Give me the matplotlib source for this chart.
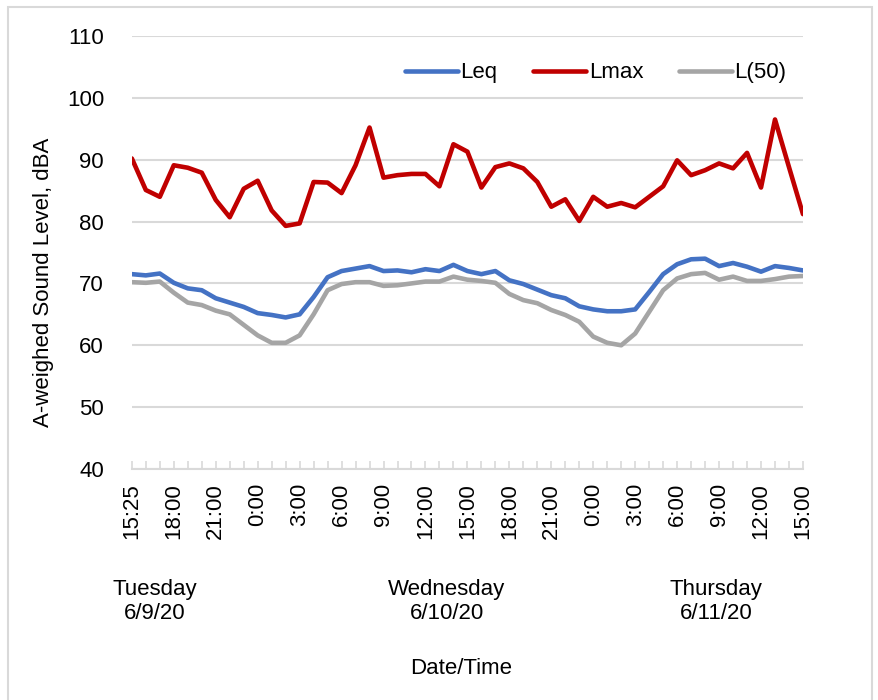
import numpy as np
import matplotlib
matplotlib.use("Agg")
import matplotlib.pyplot as plt
from matplotlib.patches import Rectangle

plt.rcParams['font.family'] = ['Liberation Sans', 'DejaVu Sans']

# hourly readings, Tue 6/9/20 15:25 -> Thu 6/11/20 15:00
leq = [71.5, 71.3, 71.6, 70.1, 69.2, 68.9, 67.6, 66.9, 66.2, 65.2,
       64.9, 64.5, 65.0, 67.8, 71.0, 72.0, 72.4, 72.8, 72.0, 72.1,
       71.8, 72.3, 72.0, 73.0, 72.0, 71.5, 72.0, 70.5, 69.9, 69.0,
       68.1, 67.6, 66.3, 65.8, 65.5, 65.5, 65.8, 68.6, 71.5, 73.1,
       73.9, 74.0, 72.8, 73.3, 72.7, 71.9, 72.8, 72.5, 72.1]
lmax = [90.2, 85.1, 84.0, 89.1, 88.7, 87.9, 83.5, 80.7, 85.3, 86.6,
        81.8, 79.3, 79.7, 86.4, 86.3, 84.6, 89.1, 95.2, 87.1, 87.5,
        87.7, 87.7, 85.7, 92.5, 91.3, 85.5, 88.8, 89.4, 88.6, 86.4,
        82.4, 83.6, 80.1, 84.0, 82.4, 83.0, 82.3, 84.0, 85.7, 89.9,
        87.5, 88.3, 89.4, 88.6, 91.1, 85.5, 96.5, 88.8, 81.2]
l50 = [70.2, 70.1, 70.3, 68.5, 66.9, 66.5, 65.6, 65.0, 63.3, 61.6,
       60.4, 60.4, 61.6, 65.0, 68.9, 69.9, 70.2, 70.2, 69.6, 69.7,
       70.0, 70.3, 70.3, 71.1, 70.6, 70.4, 70.1, 68.3, 67.3, 66.8,
       65.7, 64.9, 63.8, 61.4, 60.4, 60.0, 61.9, 65.4, 68.9, 70.8,
       71.5, 71.7, 70.6, 71.1, 70.4, 70.4, 70.7, 71.1, 71.2]

time_labels = ['15:25', '18:00', '21:00', '0:00', '3:00', '6:00', '9:00',
               '12:00', '15:00', '18:00', '21:00', '0:00', '3:00', '6:00',
               '9:00', '12:00', '15:00']
days = ['Tuesday\n6/9/20', 'Wednesday\n6/10/20', 'Thursday\n6/11/20']
day_pos = [0.176, 0.508, 0.815]

grid_c = '#d9d9d9'

fig = plt.figure(figsize=(8.79, 7.0), dpi=100)
ax = fig.add_axes([0.150, 0.330, 0.7635, 0.6186])

x = np.arange(len(lmax))
ax.plot(x, leq, color='#4472C4', lw=3.3, label='Leq', solid_capstyle='round')
ax.plot(x, lmax, color='#C00000', lw=3.3, label='Lmax', solid_capstyle='round')
ax.plot(x, l50, color='#A5A5A5', lw=3.3, label='L(50)', solid_capstyle='round')

ax.set_xlim(0, len(x) - 1)
ax.set_ylim(40, 110)
ax.set_yticks(range(40, 111, 10))
ax.yaxis.grid(True, color=grid_c, lw=1.5)
ax.set_axisbelow(True)

ax.set_xticks(x[::3])
ax.set_xticklabels(time_labels, rotation=90)
ax.set_xticks(x, minor=True)
ax.tick_params(axis='x', which='both', direction='in', length=6,
               color=grid_c, width=1.2, labelsize=16, pad=10)
ax.tick_params(axis='y', length=0, labelsize=16, pad=20)

for s in ['top', 'right', 'left']:
    ax.spines[s].set_visible(False)
ax.spines['bottom'].set_color(grid_c)
ax.spines['bottom'].set_linewidth(1.5)

ax.legend(loc='upper right', bbox_to_anchor=(1.005, 0.985), ncol=3,
          frameon=False, fontsize=16, handlelength=2.4, handletextpad=0.1,
          columnspacing=1.6)

fig.text(0.05, 0.597, 'A-weighed Sound Level, dBA', rotation=90,
         ha='center', va='center', fontsize=16)
for d, px in zip(days, day_pos):
    fig.text(px, 0.141, d, ha='center', va='center', fontsize=16,
             linespacing=1.2)
fig.text(0.525, 0.045, 'Date/Time', ha='center', va='center', fontsize=16)

fig.patches.append(Rectangle((0.009, -0.01), 0.983, 1.0, transform=fig.transFigure,
                             fill=False, edgecolor=grid_c, lw=1.5))

fig.savefig('out.png', dpi=100)
